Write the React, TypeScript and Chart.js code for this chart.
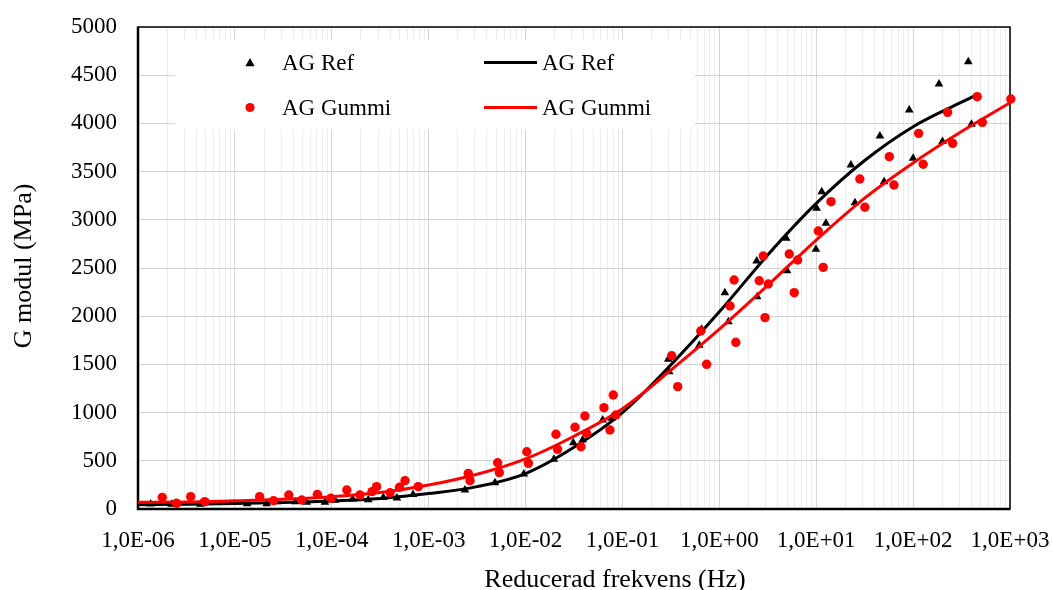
import React, { useEffect, useRef } from 'react';
import { Chart, registerables } from 'chart.js';

Chart.register(...registerables);

const FONT = "'Liberation Serif', 'Times New Roman', serif";

// Measured data: AG Ref (triangles)
const refFreq = [
  1.35e-6, 2.23e-6, 4.4e-6, 1.34e-5, 2.13e-5, 2.7e-5, 4.2e-5, 5.5e-5, 8.5e-5, 1.08e-4,
  1.64e-4, 2.38e-4, 3.4e-4, 4.7e-4, 6.9e-4, 2.37e-3, 4.83e-3, 9.6e-3, 1.96e-2, 3.11e-2,
  3.88e-2, 6.25e-2, 7.74e-2, 0.297, 0.304, 0.621, 0.656, 1.14, 1.24, 2.43,
  2.46, 4.9, 5.0, 9.93, 10.1, 11.4, 12.6, 22.8, 25.1, 45.4,
  50.2, 91.2, 100, 185, 201, 371, 401,
];
const refG = [
  52, 50, 50, 55, 55, 75, 75, 70, 70, 90,
  105, 95, 120, 115, 150, 197, 273, 363, 515, 688,
  716, 923, 941, 1553, 1424, 1698, 1864, 2244, 1943, 2573,
  2202, 2808, 2472, 2694, 3119, 3291, 2964, 3568, 3178, 3869,
  3395, 4139, 3638, 4409, 3811, 4640, 3990,
];

// Measured data: AG Gummi (circles)
const gummiFreq = [
  1.78e-6, 2.5e-6, 3.5e-6, 4.9e-6, 1.8e-5, 2.5e-5, 3.6e-5, 4.9e-5, 7.1e-5, 9.8e-5,
  1.43e-4, 1.95e-4, 2.6e-4, 2.9e-4, 4.0e-4, 5.0e-4, 5.7e-4, 7.8e-4, 2.56e-3, 2.67e-3,
  5.15e-3, 5.36e-3, 1.03e-2, 1.07e-2, 2.06e-2, 2.14e-2, 3.24e-2, 3.73e-2, 4.1e-2, 4.27e-2,
  6.44e-2, 7.43e-2, 8.04e-2, 8.57e-2, 0.322, 0.372, 0.643, 0.74, 1.29, 1.42,
  1.48, 2.58, 2.84, 2.96, 3.2, 5.27, 5.93, 6.43, 10.5, 11.8,
  14.2, 28.2, 31.8, 56.8, 63.4, 114, 127, 227, 256, 459,
  518, 1020,
];
const gummiG = [
  121, 59, 128, 76, 128, 86, 145, 93, 152, 111,
  197, 145, 180, 232, 169, 225, 294, 232, 370, 294,
  480, 377, 594, 474, 775, 619, 848, 646, 965, 785,
  1051, 820, 1183, 975, 1590, 1269, 1846, 1501, 2106, 2376,
  1729, 2368, 2624, 1985, 2334, 2645, 2244, 2583, 2884, 2507,
  3188, 3423, 3130, 3655, 3361, 3897, 3576, 4115, 3793, 4277,
  4011, 4253,
];

// Fitted master curves
const refFitFreq = [
  1e-6, 3.16e-6, 1e-5, 3.16e-5, 1e-4, 3.16e-4, 1e-3, 3.16e-3, 1e-2, 3.16e-2,
  0.1, 0.316, 1, 3.16, 10, 31.6, 100, 316, 420,
];
const refFitG = [
  45, 50, 57, 68, 84, 110, 160, 232, 368, 640,
  1000, 1495, 2045, 2636, 3170, 3615, 3966, 4220, 4280,
];
const gummiFitFreq = [
  1e-6, 3.16e-6, 1e-5, 3.16e-5, 1e-4, 3.16e-4, 1e-3, 3.16e-3, 1e-2, 3.16e-2,
  0.1, 0.316, 1, 3.16, 10, 31.6, 100, 316, 1000,
];
const gummiFitG = [
  70, 72, 85, 100, 128, 170, 248, 360, 520, 755,
  1040, 1440, 1865, 2320, 2790, 3225, 3590, 3916, 4215,
];

const seriesNames = ['AG Ref', 'AG Gummi'];
const xTitle = 'Reducerad frekvens (Hz)';
const yTitle = 'G modul (MPa)';
const xDecades = [1e-6, 1e-5, 1e-4, 1e-3, 1e-2, 1e-1, 1, 10, 100, 1000];
const xTickLabels = [
  '1,0E-06', '1,0E-05', '1,0E-04', '1,0E-03', '1,0E-02',
  '1,0E-01', '1,0E+00', '1,0E+01', '1,0E+02', '1,0E+03',
];
const minorSteps = [1, 2, 3, 4, 5, 6, 7, 8, 9];
const yMin = 0;
const yMax = 5000;
const yStep = 500;

const toXY = (xs: number[], ys: number[]) => xs.map((x, i) => ({ x, y: ys[i] }));

const isMajor = (v: number) => {
  const l = Math.log10(v);
  return Math.abs(l - Math.round(l)) < 1e-6;
};

const framePlugin = {
  id: 'frame',
  beforeDatasetsDraw(chart: any) {
    const { ctx, chartArea } = chart;
    const { left, right, top, bottom } = chartArea;
    ctx.save();
    ctx.strokeStyle = '#000';
    ctx.lineWidth = 1.5;
    ctx.beginPath();
    ctx.moveTo(left, top);
    ctx.lineTo(right, top);
    ctx.lineTo(right, bottom);
    ctx.stroke();
    ctx.lineWidth = 2.5;
    ctx.beginPath();
    ctx.moveTo(left, top - 0.5);
    ctx.lineTo(left, bottom);
    ctx.lineTo(right + 0.5, bottom);
    ctx.stroke();
    ctx.restore();
  },
};

const legendPlugin = {
  id: 'customLegend',
  afterDatasetsDraw(chart: any) {
    const ctx = chart.ctx;
    ctx.save();
    ctx.fillStyle = '#ffffff';
    ctx.fillRect(175, 40, 520, 89);
    ctx.font = `23px ${FONT}`;
    ctx.textBaseline = 'alphabetic';
    ctx.textAlign = 'left';
    const rows = [62.5, 107.5];
    const colors = ['#000000', '#ff0000'];
    // triangle marker
    ctx.fillStyle = colors[0];
    ctx.beginPath();
    ctx.moveTo(250, rows[0] - 4.5);
    ctx.lineTo(254.6, rows[0] + 3.8);
    ctx.lineTo(245.4, rows[0] + 3.8);
    ctx.closePath();
    ctx.fill();
    // circle marker
    ctx.fillStyle = colors[1];
    ctx.beginPath();
    ctx.arc(250, rows[1], 4.6, 0, Math.PI * 2);
    ctx.fill();
    ctx.fillStyle = '#000';
    ctx.fillText(seriesNames[0], 282, rows[0] + 7.5);
    ctx.fillText(seriesNames[1], 282, rows[1] + 7.5);
    // line samples
    ctx.lineWidth = 3;
    for (let i = 0; i < 2; i++) {
      ctx.strokeStyle = colors[i];
      ctx.beginPath();
      ctx.moveTo(484, rows[i]);
      ctx.lineTo(537, rows[i]);
      ctx.stroke();
      ctx.fillStyle = '#000';
      ctx.fillText(seriesNames[i], 542, rows[i] + 7.5);
    }
    ctx.restore();
  },
};

const titlePlugin = {
  id: 'axisTitles',
  afterDraw(chart: any) {
    const ctx = chart.ctx;
    ctx.save();
    ctx.fillStyle = '#000';
    ctx.font = `26px ${FONT}`;
    ctx.textAlign = 'center';
    ctx.textBaseline = 'alphabetic';
    ctx.fillText(xTitle, 615, 587);
    ctx.translate(31, 266);
    ctx.rotate(-Math.PI / 2);
    ctx.fillText(yTitle, 0, 0);
    ctx.restore();
  },
};

export default function App() {
  const canvasRef = useRef<HTMLCanvasElement | null>(null);

  useEffect(() => {
    if (!canvasRef.current) return;
    const chart = new Chart(canvasRef.current, {
      type: 'scatter',
      data: {
        datasets: [
          {
            label: seriesNames[1],
            data: toXY(gummiFitFreq, gummiFitG),
            showLine: true,
            borderColor: '#ff0000',
            borderWidth: 3,
            pointRadius: 0,
            cubicInterpolationMode: 'monotone',
            order: 0,
          },
          {
            label: seriesNames[1],
            data: toXY(gummiFreq, gummiG),
            showLine: false,
            pointStyle: 'circle',
            pointRadius: 4.7,
            pointBorderWidth: 0,
            backgroundColor: '#ff0000',
            borderColor: '#ff0000',
            order: 1,
          },
          {
            label: seriesNames[0],
            data: toXY(refFitFreq, refFitG),
            showLine: true,
            borderColor: '#000000',
            borderWidth: 3,
            pointRadius: 0,
            cubicInterpolationMode: 'monotone',
            order: 2,
          },
          {
            label: seriesNames[0],
            data: toXY(refFreq, refG),
            showLine: false,
            pointStyle: 'triangle',
            pointRadius: 5,
            pointBorderWidth: 0,
            backgroundColor: '#000000',
            borderColor: '#000000',
            order: 3,
          },
        ] as any,
      },
      options: {
        animation: false,
        responsive: false,
        clip: false as any,
        layout: { autoPadding: false, padding: { left: 0, right: 43, top: 27, bottom: 0 } },
        plugins: {
          legend: { display: false },
          tooltip: { enabled: false },
          title: { display: false },
        },
        scales: {
          x: {
            type: 'logarithmic',
            min: xDecades[0],
            max: xDecades[xDecades.length - 1],
            afterBuildTicks: (scale: any) => {
              const ticks: any[] = [];
              xDecades.forEach((d, i) => {
                if (i === xDecades.length - 1) {
                  ticks.push({ value: d, major: true });
                } else {
                  minorSteps.forEach((m) => ticks.push({ value: d * m, major: m === 1 }));
                }
              });
              scale.ticks = ticks;
            },
            afterFit: (scale: any) => {
              scale.height = 81;
              scale.paddingLeft = 0;
              scale.paddingRight = 0;
            },
            border: { display: false },
            grid: {
              drawTicks: false,
              lineWidth: 1,
              color: (c: any) => (c.tick && isMajor(c.tick.value) ? '#d4d4d4' : '#ececec'),
            },
            ticks: {
              autoSkip: false,
              maxRotation: 0,
              minRotation: 0,
              padding: 18,
              color: '#000',
              font: { family: FONT, size: 23 },
              callback: (value: any) => {
                const v = Number(value);
                const i = xDecades.findIndex((d) => Math.abs(d - v) / d < 1e-9);
                return i >= 0 ? xTickLabels[i] : '';
              },
            },
          },
          y: {
            type: 'linear',
            min: yMin,
            max: yMax,
            afterFit: (scale: any) => {
              scale.width = 138;
              scale.paddingTop = 0;
              scale.paddingBottom = 0;
            },
            border: { display: false },
            grid: {
              drawTicks: false,
              lineWidth: 1,
              color: '#d4d4d4',
            },
            ticks: {
              stepSize: yStep,
              padding: 21,
              color: '#000',
              font: { family: FONT, size: 23 },
              callback: (value: any) => String(value),
            },
          },
        },
      },
      plugins: [framePlugin, legendPlugin, titlePlugin],
    });
    return () => chart.destroy();
  }, []);

  return (
    <div style={{ position: 'fixed', left: 0, top: 0, width: 1053, height: 590, background: '#fff' }}>
      <canvas ref={canvasRef} width={1053} height={590} style={{ display: 'block' }} />
    </div>
  );
}
